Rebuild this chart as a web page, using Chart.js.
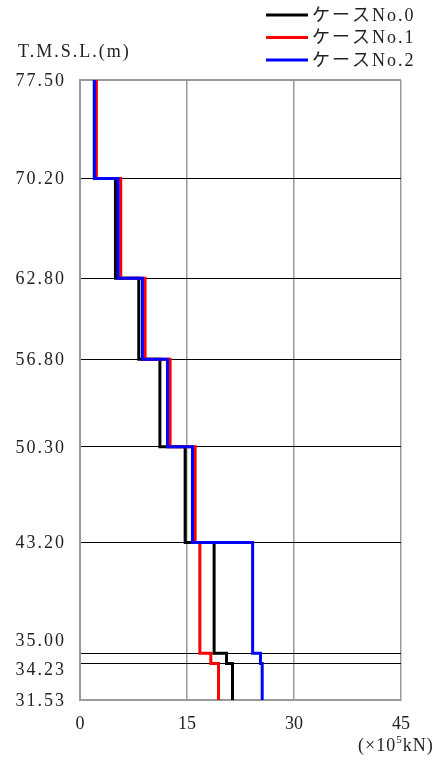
<!DOCTYPE html>
<html>
<head>
<meta charset="utf-8">
<script src="https://cdn.jsdelivr.net/npm/chart.js@4"></script>
<style>
  body { margin: 0; background: #fff; }
  #wrap { width: 445px; height: 760px; }
</style>
</head>
<body>
<div id="wrap"><canvas id="shearChart" width="445" height="760"></canvas></div>
<script>
// elevations (T.M.S.L., m) - step boundaries, top to bottom
const elevations = [77.5, 70.2, 62.8, 56.8, 50.3, 43.2, 35.0, 34.23, 31.53];
const seriesLabels = ['ケースNo.0', 'ケースNo.1', 'ケースNo.2'];
// shear force per story (x10^5 kN), one value per interval
const case0 = [2.0, 4.97, 8.24, 11.2, 14.74, 18.8, 20.54, 21.38];
const case1 = [2.3, 5.71, 9.12, 12.63, 16.14, 16.8, 18.34, 19.42];
const case2 = [2.05, 5.33, 8.75, 12.26, 15.77, 24.2, 25.3, 25.54];
const xTicks = [0, 15, 30, 45];

const FONT = '"Liberation Serif", "DejaVu Serif", "Noto Sans CJK JP", serif';

function stepPoints(values) {
    const pts = [];
    values.forEach((v, i) => {
        pts.push({ x: v, y: elevations[i] });
        pts.push({ x: v, y: elevations[i + 1] });
    });
    return pts;
}

const colors = ['#000000', '#ff0000', '#0000ff'];
const seriesData = [case0, case1, case2];

// legend, axis title, y labels (two close ones pushed apart), unit label
const extras = {
    id: 'extras',
    afterDraw(chart) {
        const c = chart.ctx;
        const ys = chart.scales.y;
        c.save();
        c.font = '18px ' + FONT;
        c.fillStyle = '#222';
        c.textBaseline = 'middle';
        c.letterSpacing = '2px';

        c.textAlign = 'left';
        c.fillText('T.M.S.L.(m)', 18, 52);

        c.textAlign = 'right';
        elevations.forEach(v => {
            let y = ys.getPixelForValue(v);
            if (v === 35.0) y -= 13;
            if (v === 34.23) y += 6;
            c.fillText(v.toFixed(2), 66, y + 1);
        });

        c.textAlign = 'left';
        seriesLabels.forEach((lab, i) => {
            const y = 15 + i * 22.5;
            c.strokeStyle = colors[i];
            c.lineWidth = 3;
            c.beginPath();
            c.moveTo(266, y);
            c.lineTo(308, y);
            c.stroke();
            c.fillText(lab, 312, y + 1);
        });

        // unit
        const y = 746;
        let x = 358;
        c.letterSpacing = '1px';
        c.fillText('(×10', x, y);
        x += c.measureText('(×10').width;
        c.font = '11px ' + FONT;
        c.fillText('5', x, y - 6);
        x += c.measureText('5').width;
        c.font = '18px ' + FONT;
        c.fillText('kN)', x, y);
        c.restore();
    }
};

const ctx = document.getElementById('shearChart').getContext('2d');
const shearChart = new Chart(ctx, {
    type: 'scatter',
    data: {
        datasets: seriesData.map((vals, i) => ({
            label: seriesLabels[i],
            data: stepPoints(vals),
            showLine: true,
            borderColor: colors[i],
            borderWidth: 3,
            pointRadius: 0,
            fill: false,
            order: 3 - i
        }))
    },
    options: {
        responsive: false,
        animation: false,
        layout: { padding: { top: 80, right: 44, left: 0, bottom: 0 } },
        plugins: {
            legend: { display: false },
            tooltip: { enabled: false }
        },
        scales: {
            x: {
                type: 'linear',
                min: 0,
                max: 45,
                afterBuildTicks: s => { s.ticks = xTicks.map(v => ({ value: v })); },
                afterFit: s => { s.height = 60; },
                grid: { color: '#999', lineWidth: 1.5, drawTicks: false },
                border: { color: '#999', width: 2 },
                ticks: { padding: 13, color: '#222', font: { size: 18, family: FONT } }
            },
            y: {
                type: 'linear',
                min: 31.53,
                max: 77.5,
                afterBuildTicks: s => { s.ticks = elevations.map(v => ({ value: v })); },
                afterFit: s => { s.width = 80; },
                grid: {
                    color: c => (c.tick && (c.tick.value === 77.5 || c.tick.value === 31.53)) ? '#999' : '#000',
                    lineWidth: c => (c.tick && (c.tick.value === 77.5 || c.tick.value === 31.53)) ? 2 : 1,
                    drawTicks: false
                },
                border: { color: '#999', width: 2 },
                ticks: { display: false }
            }
        }
    },
    plugins: [extras]
});
</script>
</body>
</html>
